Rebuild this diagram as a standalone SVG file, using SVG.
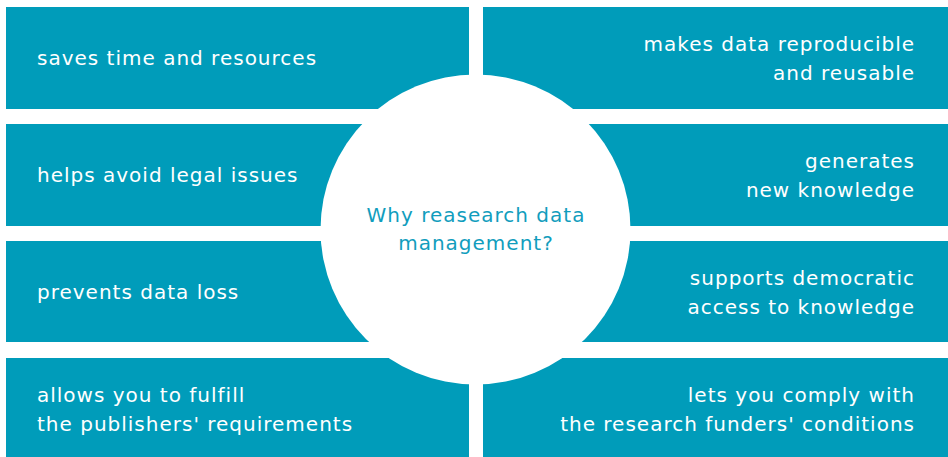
<svg xmlns="http://www.w3.org/2000/svg" width="948" height="457" viewBox="0 0 948 457">
<style>
.box{fill:#009cba}
.t{font-family:"DejaVu Sans",Verdana,sans-serif;font-size:20px;letter-spacing:1px;fill:#ffffff}
.r{text-anchor:end}
.c{font-family:"DejaVu Sans",Verdana,sans-serif;font-size:20px;letter-spacing:1px;fill:#119dbd;text-anchor:middle}
</style>
<rect width="948" height="457" fill="#ffffff"/>
<g id="n1"><rect class="box" x="6" y="7" width="463" height="102"/><text class="t" x="37" y="65">saves time and resources</text></g>
<g id="n2"><rect class="box" x="483" y="7" width="465" height="102"/><text class="t r" x="915" y="50.5">makes data reproducible</text><text class="t r" x="915" y="79.5">and reusable</text></g>
<g id="n3"><rect class="box" x="6" y="124" width="463" height="102"/><text class="t" x="37" y="182">helps avoid legal issues</text></g>
<g id="n4"><rect class="box" x="483" y="124" width="465" height="102"/><text class="t r" x="915" y="167.5">generates</text><text class="t r" x="915" y="196.5">new knowledge</text></g>
<g id="n5"><rect class="box" x="6" y="241" width="463" height="101"/><text class="t" x="37" y="299">prevents data loss</text></g>
<g id="n6"><rect class="box" x="483" y="241" width="465" height="101"/><text class="t r" x="915" y="284.5">supports democratic</text><text class="t r" x="915" y="313.5">access to knowledge</text></g>
<g id="n7"><rect class="box" x="6" y="358" width="463" height="102"/><text class="t" x="37" y="401.5">allows you to fulfill</text><text class="t" x="37" y="430.5">the publishers' requirements</text></g>
<g id="n8"><rect class="box" x="483" y="358" width="465" height="102"/><text class="t r" x="915" y="401.5">lets you comply with</text><text class="t r" x="915" y="430.5">the research funders' conditions</text></g>
<g id="center"><circle cx="475.5" cy="229.5" r="155" fill="#ffffff"/><text class="c" x="476" y="222">Why reasearch data</text><text class="c" x="476" y="250">management?</text></g>
<g id="connectors"></g>
</svg>
